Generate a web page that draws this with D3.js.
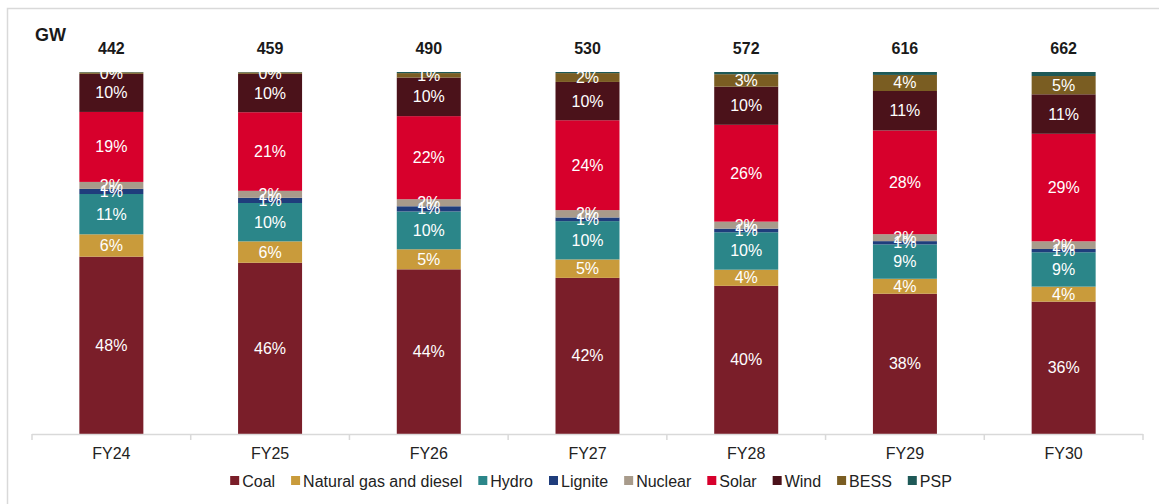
<!DOCTYPE html>
<html>
<head>
<meta charset="utf-8">
<script src="https://cdn.jsdelivr.net/npm/d3@7"></script>
<style>
  html, body { margin: 0; padding: 0; background: #fff; }
  svg { display: block; font-family: "Liberation Sans", Arial, sans-serif; }
</style>
</head>
<body>
<svg id="chart" width="1159" height="504"></svg>
<script>
// ---- data (share of installed capacity, %) ----
const categories = ["FY24", "FY25", "FY26", "FY27", "FY28", "FY29", "FY30"];
const totals = [442, 459, 490, 530, 572, 616, 662];
const coal     = [48.4, 46.4, 44.4, 42.4, 40.4, 38.4, 36.2];
const gas      = [6.1, 5.8, 5.4, 5.0, 4.4, 4.1, 4.1];
const hydro    = [11.0, 10.4, 10.2, 10.4, 10.2, 9.4, 9.4];
const lignite  = [1.4, 1.4, 1.4, 1.0, 1.0, 0.9, 0.9];
const nuclear  = [1.9, 1.9, 1.9, 2.0, 1.9, 1.9, 2.1];
const solar    = [19.1, 21.3, 22.4, 24.4, 26.4, 28.4, 29.4];
const wind     = [10.4, 10.4, 10.4, 10.4, 10.4, 10.8, 10.8];
const bess     = [0.4, 0.4, 1.2, 2.4, 3.4, 4.4, 5.0];
const psp      = [0.1, 0.1, 0.3, 0.3, 0.6, 0.8, 1.1];
const seriesNames = ["Coal", "Natural gas and diesel", "Hydro", "Lignite", "Nuclear", "Solar", "Wind", "BESS", "PSP"];
const seriesValues = [coal, gas, hydro, lignite, nuclear, solar, wind, bess, psp];
const colors = ["#7a1e29", "#c99b3b", "#2b8689", "#1f3d7c", "#a89b8b", "#d7002c", "#4b121a", "#7a5d22", "#1e5957"];
const labelledSeries = ["Coal", "Natural gas and diesel", "Hydro", "Lignite", "Nuclear", "Solar", "Wind", "BESS"];

// ---- build table ----
const table = categories.map((c, i) => {
  const row = { cat: c };
  seriesNames.forEach((s, j) => row[s] = seriesValues[j][i]);
  return row;
});

const svg = d3.select("#chart");
const W = 1159, H = 504;

// frame
svg.append("rect")
  .attr("x", 7.5).attr("y", 8.5).attr("width", 2000).attr("height", 2000)
  .attr("fill", "none").attr("stroke", "#d9d9d9").attr("stroke-width", 1.5);

const plot = { left: 32, right: 1143, top: 72, bottom: 434 };
const nCat = categories.length;
const stepW = (plot.right - plot.left) / nCat;
const pInner = 1 - 64 / stepW;

const x = d3.scaleBand().domain(categories)
  .range([plot.left, plot.right])
  .paddingInner(pInner).paddingOuter(pInner / 2);
const y = d3.scaleLinear().domain([0, 1]).range([plot.bottom, plot.top]);
const color = d3.scaleOrdinal().domain(seriesNames).range(colors);

const stack = d3.stack().keys(seriesNames).offset(d3.stackOffsetExpand);
const layers = stack(table);

// bars
const gBars = svg.append("g");
gBars.selectAll("g.layer").data(layers).join("g")
  .attr("class", "layer")
  .attr("fill", d => color(d.key))
  .selectAll("rect").data(d => d).join("rect")
  .attr("x", d => x(d.data.cat))
  .attr("width", x.bandwidth())
  .attr("y", d => y(d[1]))
  .attr("height", d => y(d[0]) - y(d[1]));

// clip for labels
svg.append("clipPath").attr("id", "plotclip")
  .append("rect").attr("x", 0).attr("y", plot.top).attr("width", W).attr("height", plot.bottom - plot.top);

const fmt = d3.format(".0f");
const gLab = svg.append("g").attr("clip-path", "url(#plotclip)");
layers.filter(l => labelledSeries.includes(l.key)).forEach(l => {
  gLab.selectAll(null).data(l).join("text")
    .attr("x", d => x(d.data.cat) + x.bandwidth() / 2)
    .attr("y", d => (y(d[0]) + y(d[1])) / 2)
    .attr("text-anchor", "middle")
    .attr("dominant-baseline", "central")
    .attr("fill", "#ffffff")
    .attr("font-size", "16px")
    .text(d => fmt(d.data[l.key]) + "%");
});

// totals
svg.append("g").selectAll("text").data(categories).join("text")
  .attr("x", d => x(d) + x.bandwidth() / 2)
  .attr("y", 48)
  .attr("text-anchor", "middle")
  .attr("dominant-baseline", "central")
  .attr("font-weight", "bold")
  .attr("font-size", "16px")
  .attr("fill", "#1a1a1a")
  .text((d, i) => totals[i]);

// GW unit
svg.append("text").attr("x", 35).attr("y", 35)
  .attr("dominant-baseline", "central")
  .attr("font-size", "18px").attr("font-weight", "bold").attr("fill", "#1a1a1a")
  .text("GW");

// x axis
const gAxis = svg.append("g");
gAxis.append("line")
  .attr("x1", plot.left).attr("x2", plot.right)
  .attr("y1", plot.bottom + 0.5).attr("y2", plot.bottom + 0.5)
  .attr("stroke", "#d9d9d9").attr("stroke-width", 1.5);
const tickX = d3.range(nCat + 1).map(i => x.range()[0] + i * x.step());
gAxis.selectAll("line.tick").data(tickX).join("line")
  .attr("class", "tick")
  .attr("x1", d => d).attr("x2", d => d)
  .attr("y1", plot.bottom).attr("y2", plot.bottom + 6)
  .attr("stroke", "#d9d9d9").attr("stroke-width", 1.5);
gAxis.selectAll("text").data(categories).join("text")
  .attr("x", d => x(d) + x.bandwidth() / 2)
  .attr("y", 453)
  .attr("text-anchor", "middle")
  .attr("dominant-baseline", "central")
  .attr("font-size", "16px")
  .attr("fill", "#222")
  .text(d => d);

// legend
const gLeg = svg.append("g");
const sq = 9, gapT = 3, gapItem = 16;
let cx = 0;
seriesNames.forEach((s, i) => {
  const g = gLeg.append("g");
  g.append("rect").attr("x", cx).attr("y", -sq / 2 - 0.5).attr("width", sq).attr("height", sq).attr("fill", colors[i]);
  const t = g.append("text").attr("x", cx + sq + gapT).attr("y", 0)
    .attr("dominant-baseline", "central").attr("font-size", "16px").attr("fill", "#222").text(s);
  const w = t.node().getComputedTextLength();
  cx += sq + gapT + w + gapItem;
});
const legW = cx - gapItem;
gLeg.attr("transform", `translate(${591 - legW / 2},481)`);
</script>
</body>
</html>
